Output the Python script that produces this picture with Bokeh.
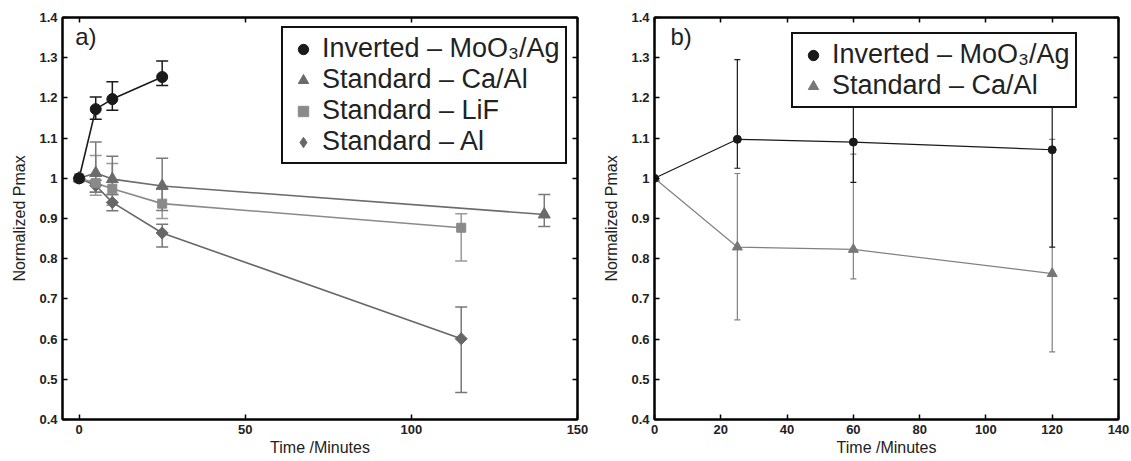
from bokeh.plotting import figure
from bokeh.layouts import row
from bokeh.models import (Range1d, FixedTicker, LinearAxis, Whisker, TeeHead,
                          ColumnDataSource, Legend, LegendItem, Label,
                          CustomJSTickFormatter)
from bokeh.embed import file_html
from bokeh.resources import INLINE

# ---------------- data: panel a ----------------
t_inv_a = [0, 5, 10, 25]
p_inv_a = [1.0, 1.172, 1.197, 1.252]
lo_inv_a = [1.0, 1.147, 1.169, 1.231]
hi_inv_a = [1.0, 1.202, 1.240, 1.292]

t_ca_a = [0, 5, 10, 25, 140]
p_ca_a = [1.0, 1.013, 0.998, 0.981, 0.910]
lo_ca_a = [1.0, 0.965, 0.960, 0.920, 0.880]
hi_ca_a = [1.0, 1.090, 1.055, 1.050, 0.960]

t_lif_a = [0, 5, 10, 25, 115]
p_lif_a = [1.0, 0.988, 0.974, 0.937, 0.877]
lo_lif_a = [1.0, 0.958, 0.933, 0.900, 0.794]
hi_lif_a = [1.0, 1.057, 1.037, 0.975, 0.912]

t_al_a = [0, 5, 10, 25, 115]
p_al_a = [1.0, 0.982, 0.940, 0.864, 0.601]
lo_al_a = [1.0, 0.965, 0.919, 0.829, 0.467]
hi_al_a = [1.0, 0.995, 0.960, 0.886, 0.680]

# ---------------- data: panel b ----------------
t_b = [0, 25, 60, 120]
p_inv_b = [1.0, 1.097, 1.090, 1.071]
lo_inv_b = [1.0, 1.025, 0.990, 0.829]
hi_inv_b = [1.0, 1.295, 1.190, 1.310]
p_ca_b = [1.0, 0.829, 0.823, 0.763]
lo_ca_b = [1.0, 0.648, 0.750, 0.568]
hi_ca_b = [1.0, 1.012, 1.060, 1.097]

y_ticks = [0.4, 0.5, 0.6, 0.7, 0.8, 0.9, 1.0, 1.1, 1.2, 1.3, 1.4]
x_ticks_a = [0, 50, 100, 150]
x_ticks_b = [0, 20, 40, 60, 80, 100, 120, 140]

lab_inv = "Inverted \u2013 MoO\u2083/Ag"
lab_ca = "Standard \u2013 Ca/Al"
lab_lif = "Standard \u2013 LiF"
lab_al = "Standard \u2013 Al"

FONT = "Liberation Sans"


def base_fig(width, left, right, xr, xt):
    p = figure(width=width, height=461, output_backend="svg", toolbar_location=None,
               x_range=Range1d(*xr), y_range=Range1d(0.4, 1.4),
               min_border_left=left, min_border_right=right,
               min_border_top=17, min_border_bottom=42)
    p.grid.visible = False
    p.outline_line_color = "black"
    p.outline_line_width = 2
    p.background_fill_color = "white"
    p.border_fill_color = "white"
    fmt = CustomJSTickFormatter(code="return tick.toFixed(1).replace(/\\.0$/, '')")
    for ax in (p.xaxis[0], p.yaxis[0]):
        ax.major_tick_in = 5
        ax.major_tick_out = 0
        ax.minor_tick_line_color = None
        ax.axis_line_width = 2
        ax.major_tick_line_width = 1.5
        ax.major_label_text_font = FONT
        ax.major_label_text_font_style = "bold"
        ax.major_label_text_font_size = "13px"
        ax.major_label_text_color = "#222222"
        ax.axis_label_text_font = FONT
        ax.axis_label_text_font_style = "normal"
        ax.axis_label_text_font_size = "16px"
        ax.axis_label_text_color = "#222222"
    p.xaxis[0].ticker = FixedTicker(ticks=xt)
    p.yaxis[0].ticker = FixedTicker(ticks=y_ticks)
    p.yaxis[0].formatter = fmt
    p.xaxis[0].axis_label = "Time /Minutes"
    p.yaxis[0].axis_label = "Normalized Pmax"
    p.xaxis[0].major_label_standoff = 5
    p.xaxis[0].axis_label_standoff = 2
    p.yaxis[0].major_label_standoff = 5
    p.yaxis[0].axis_label_standoff = 8
    # mirrored ticks on top / right (no labels)
    blank = CustomJSTickFormatter(code="return ''")
    top = LinearAxis(ticker=FixedTicker(ticks=xt), formatter=blank,
                     major_label_standoff=0, major_tick_in=5, major_tick_out=0,
                     minor_tick_line_color=None, axis_line_width=2, major_tick_line_width=1.5)
    right_ax = LinearAxis(ticker=FixedTicker(ticks=y_ticks), formatter=blank,
                          major_label_standoff=0, major_tick_in=5, major_tick_out=0,
                          minor_tick_line_color=None, axis_line_width=2, major_tick_line_width=1.5)
    p.add_layout(top, "above")
    p.add_layout(right_ax, "right")
    return p


def err(p, t, lo, hi, color, width, cap):
    src = ColumnDataSource(dict(x=t[1:], lo=lo[1:], hi=hi[1:]))
    w = Whisker(base="x", lower="lo", upper="hi", source=src, dimension="height",
                line_color=color, line_width=width,
                upper_head=TeeHead(size=cap, line_color=color, line_width=width),
                lower_head=TeeHead(size=cap, line_color=color, line_width=width))
    p.add_layout(w)


# ---------------- panel a ----------------
pa = base_fig(600, 62, 23, (-5, 150), x_ticks_a)

c_inv = "#1a1a1a"
c_ca = "#6b6b6b"
c_lif = "#8a8a8a"
c_al = "#676767"

err(pa, t_al_a, lo_al_a, hi_al_a, "#777777", 1.5, 12)
err(pa, t_lif_a, lo_lif_a, hi_lif_a, "#999999", 1.5, 12)
err(pa, t_ca_a, lo_ca_a, hi_ca_a, "#7a7a7a", 1.5, 12)
err(pa, t_inv_a, lo_inv_a, hi_inv_a, c_inv, 1.5, 12)

pa.line(t_al_a, p_al_a, line_color=c_al, line_width=1.6)
pa.line(t_lif_a, p_lif_a, line_color=c_lif, line_width=1.6)
pa.line(t_ca_a, p_ca_a, line_color=c_ca, line_width=1.6)
pa.line(t_inv_a, p_inv_a, line_color=c_inv, line_width=1.6)

# native diamond (used for the legend key), covered by a rotated square
r_al = pa.scatter(t_al_a, p_al_a, marker="diamond", size=11,
                  fill_color=c_al, line_color=c_al)
pa.scatter(t_al_a, p_al_a, marker="square", angle=0.7854, size=8.5,
           fill_color=c_al, line_color=c_al)
r_lif = pa.scatter(t_lif_a, p_lif_a, marker="square", size=9, fill_color=c_lif, line_color=c_lif)
r_ca = pa.scatter(t_ca_a, p_ca_a, marker="triangle", size=12, fill_color=c_ca, line_color=c_ca)
r_inv = pa.scatter(t_inv_a, p_inv_a, marker="circle", size=11, fill_color=c_inv, line_color=c_inv)


def make_legend(items, loc):
    lg = Legend(items=items, location=loc, border_line_color="#111111", border_line_width=2.5,
                border_line_alpha=1.0,
                background_fill_color="white", background_fill_alpha=1.0,
                label_text_font=FONT, label_text_font_size="27px", label_text_color="#222222",
                label_standoff=4, glyph_width=30, glyph_height=26, label_height=26,
                spacing=0, padding=5, margin=0)
    return lg


pa.add_layout(make_legend([LegendItem(label=lab_inv, renderers=[r_inv]),
                           LegendItem(label=lab_ca, renderers=[r_ca]),
                           LegendItem(label=lab_lif, renderers=[r_lif]),
                           LegendItem(label=lab_al, renderers=[r_al])], (219, 255)))
pa.add_layout(Label(x=-1.2, y=1.318, text="a)", text_font=FONT, text_font_size="24px",
                    text_baseline="bottom", text_color="#222222"))

# ---------------- panel b ----------------
pb = base_fig(531, 51, 13, (0, 140), x_ticks_b)

c_gb = "#808080"
err(pb, t_b, lo_ca_b, hi_ca_b, c_gb, 1.2, 6)
err(pb, t_b, lo_inv_b, hi_inv_b, c_inv, 1.2, 6)
pb.line(t_b, p_ca_b, line_color=c_gb, line_width=1.2)
pb.line(t_b, p_inv_b, line_color=c_inv, line_width=1.2)
rb_ca = pb.scatter(t_b, p_ca_b, marker="triangle", size=10, fill_color="#777777", line_color="#777777")
rb_inv = pb.scatter(t_b, p_inv_b, marker="circle", size=8, fill_color=c_inv, line_color=c_inv)

pb.add_layout(make_legend([LegendItem(label=lab_inv, renderers=[rb_inv]),
                           LegendItem(label=lab_ca, renderers=[rb_ca])], (137, 311)))
pb.add_layout(Label(x=4.8, y=1.318, text="b)", text_font=FONT, text_font_size="24px",
                    text_baseline="bottom", text_color="#222222"))

layout = row(pa, pb)
open("out.html", "w").write(file_html(layout, INLINE))
